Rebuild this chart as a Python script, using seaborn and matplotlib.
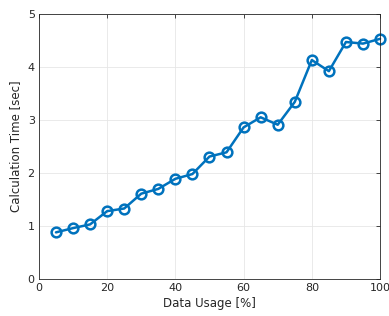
import numpy as np
import pandas as pd
import seaborn as sns
import matplotlib
matplotlib.use("Agg")
import matplotlib.pyplot as plt

# Data
usage = [5, 10, 15, 20, 25, 30, 35, 40, 45, 50, 55, 60, 65, 70, 75, 80, 85, 90, 95, 100]
calc_time = [0.88, 0.96, 1.03, 1.28, 1.33, 1.61, 1.70, 1.89, 1.98, 2.31,
             2.39, 2.86, 3.05, 2.91, 3.34, 4.13, 3.92, 4.47, 4.44, 4.53]
x_ticks = [0, 20, 40, 60, 80, 100]
y_ticks = [0, 1, 2, 3, 4, 5]

df = pd.DataFrame({"usage": usage, "time": calc_time})

sns.set_theme(style="whitegrid")
plt.rcParams['font.family'] = ['DejaVu Sans']

fig = plt.figure(figsize=(3.89, 3.16), dpi=100)
ax = fig.add_axes([0.100, 0.117, 0.877, 0.839])

sns.lineplot(data=df, x="usage", y="time", ax=ax, color="#0072BD", linewidth=1.8,
             marker="o", markersize=7, markerfacecolor="none",
             markeredgecolor="#0072BD", markeredgewidth=1.8, clip_on=False)

ax.set_xlim(0, 100)
ax.set_ylim(0, 5)
ax.set_xticks(x_ticks)
ax.set_yticks(y_ticks)
ax.set_xlabel("Data Usage [%]", fontsize=8.5, color="#262626", labelpad=3)
ax.set_ylabel("Calculation Time [sec]", fontsize=8.5, color="#262626", labelpad=4)
ax.tick_params(axis="both", labelsize=8, colors="#262626", direction="in",
               length=3, width=0.6, pad=3, top=True, right=True)
ax.grid(True, color="#e6e6e6", linewidth=0.6)
for s in ax.spines.values():
    s.set_visible(True)
    s.set_color("#262626")
    s.set_linewidth(0.6)

fig.savefig("out.png", dpi=100)
